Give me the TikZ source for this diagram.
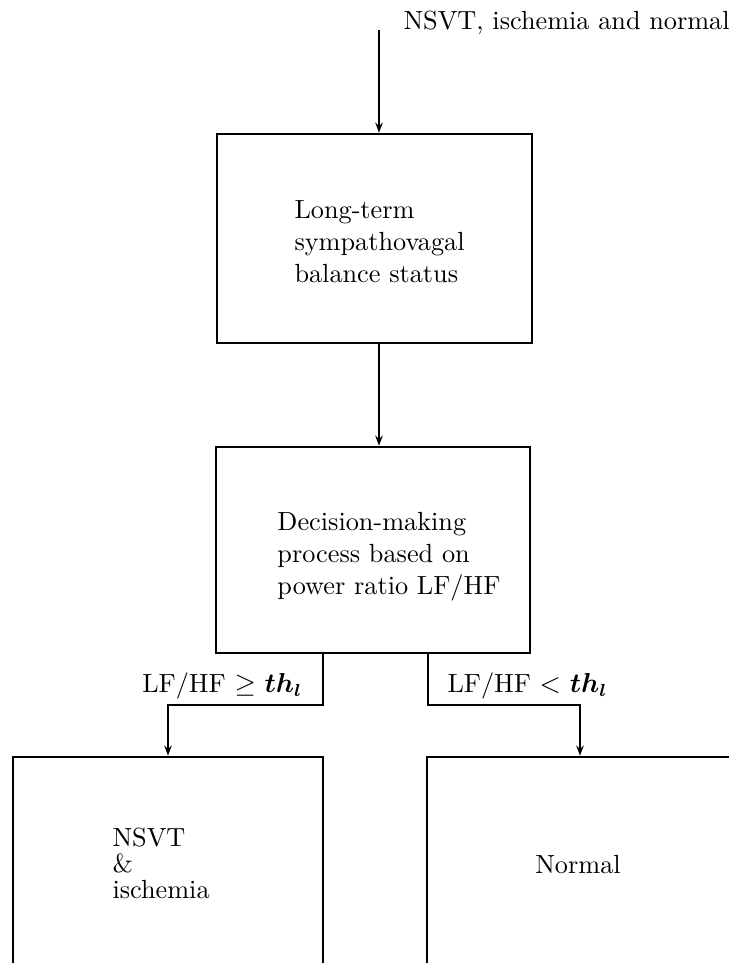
\documentclass[tikz,border=0pt]{standalone}
\usepackage{amsmath}
\usetikzlibrary{arrows.meta}
\begin{document}
\begin{tikzpicture}[x=0.4pt,y=-0.4pt,
  box/.style={draw, line width=1.1pt, rectangle, inner sep=0pt},
  txt/.style={inner sep=0pt, align=left, font=\fontsize{10.5pt}{12.7pt}\selectfont},
  lowtxt/.style={inner sep=0pt, align=left, font=\fontsize{10.5pt}{10.3pt}\selectfont},
  flow/.style={line width=1pt, -{Stealth[length=4pt,width=3pt]}}]
\clip (0,0) rectangle (729,963);

% blocks
\node[box, minimum width=126pt, minimum height=83.6pt] (b1) at (374.5,238.5) {};
\node[box, minimum width=125.6pt, minimum height=82.4pt] (b2) at (373,550) {};
\node[box, minimum width=124pt, minimum height=98.4pt] (b3) at (168,880) {};
\node[box, minimum width=122.4pt, minimum height=98.4pt] (b4) at (580,880) {};

% block texts (base anchor sits on the last line)
\node[txt, anchor=base west] (t1) at (294,282) {Long-term\\sympathovagal\\balance status};
\node[txt, anchor=base west] (t2) at (277,594) {Decision-making\\process based on\\power ratio LF/HF};
\node[lowtxt, anchor=base west] (t3) at (112,898) {NSVT\\\&\\ischemia};
\node[txt, anchor=base] (t4) at (578,873) {Normal};

% input
\coordinate (in) at (379,30);
\node[txt, anchor=base west] (inlab) at (403,29) {NSVT, ischemia and normal};

% branch points
\coordinate (lsplit) at (323,705);
\coordinate (rsplit) at (428,705);

% connectors
\draw[flow] (in) -- (in |- b1.north);
\draw[flow] (b1.south -| in) -- (b2.north -| in);
\draw[flow] (lsplit |- b2.south) -- (lsplit) -| (b3.north);
\draw[flow] (rsplit |- b2.south) -- (rsplit) -| (b4.north);

% branch conditions
\node[txt, anchor=base east] (c1) at (303,692) {LF/HF $\geq$ {\boldmath$th_l$}};
\node[txt, anchor=base west] (c2) at (447,692) {LF/HF $<$ {\boldmath$th_l$}};
\end{tikzpicture}
\end{document}
